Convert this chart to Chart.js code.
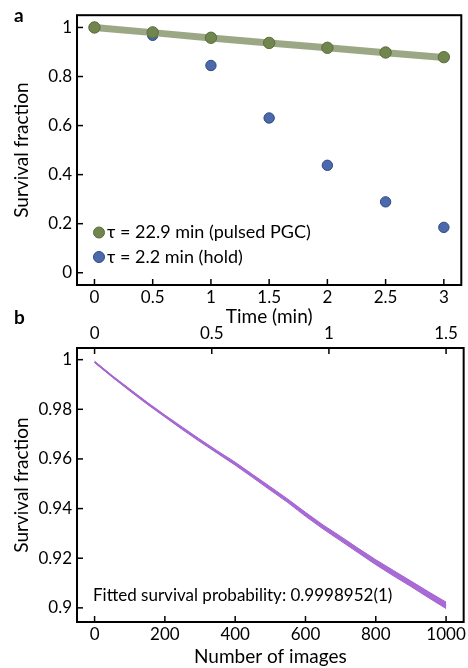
<!DOCTYPE html>
<html>
<head>
<meta charset="utf-8">
<script src="https://cdn.jsdelivr.net/npm/chart.js@4.4.1/dist/chart.umd.min.js"></script>
<style>
  body { margin: 0; background: #fff; }
  #wrap { position: relative; width: 468px; height: 668px; }
  #wrapA { position: absolute; left: 0; top: 0; width: 468px; height: 340px; }
  #wrapB { position: absolute; left: 0; top: 320px; width: 468px; height: 348px; }
</style>
</head>
<body>
<div id="wrap">
  <div id="wrapA"><canvas id="chartA"></canvas></div>
  <div id="wrapB"><canvas id="chartB"></canvas></div>
</div>
<script>
// ---- Panel a data (time in min) ----
const timeA = [0, 0.5, 1, 1.5, 2, 2.5, 3];
const pulsedValues = [1.0, 0.980, 0.958, 0.937, 0.917, 0.898, 0.879];
const holdValues = [1.0, 0.968, 0.845, 0.631, 0.438, 0.289, 0.185];
const fitValues = [1.0, 0.979, 0.957, 0.937, 0.917, 0.897, 0.878];
const legendLabels = ["τ = 22.9 min (pulsed PGC)", "τ = 2.2 min (hold)"];
const timeTicksA = [0, 0.5, 1, 1.5, 2, 2.5, 3];
const timeTickLabelsA = ["0", "0.5", "1", "1.5", "2", "2.5", "3"];
const survTicksA = [0, 0.2, 0.4, 0.6, 0.8, 1];
const survTickLabelsA = ["0", "0.2", "0.4", "0.6", "0.8", "1"];

// ---- Panel b data (number of images) ----
const images = [0, 50, 100, 150, 200, 250, 300, 350, 400, 450, 500,
                550, 600, 650, 700, 750, 800, 850, 900, 950, 1000];
const survivalB = [0.9991, 0.9933, 0.9878, 0.9824, 0.9773, 0.9723, 0.9674,
                   0.9627, 0.9581, 0.9531, 0.9481, 0.9431, 0.9377, 0.9326,
                   0.9279, 0.9231, 0.9184, 0.9140, 0.9097, 0.9053, 0.9010];
const survivalErr = [0.0003, 0.0003, 0.0004, 0.0004, 0.0004, 0.0005, 0.0005,
                     0.0005, 0.0006, 0.0006, 0.0007, 0.0007, 0.0008, 0.0008,
                     0.0009, 0.0009, 0.0010, 0.0011, 0.0011, 0.0012, 0.0013];
const imageTicks = [0, 200, 400, 600, 800, 1000];
const imageTickLabels = ["0", "200", "400", "600", "800", "1000"];
const minuteTicks = [0, 0.5, 1, 1.5];
const minuteTickLabels = ["0", "0.5", "1", "1.5"];
const survTicksB = [0.9, 0.92, 0.94, 0.96, 0.98, 1];
const survTickLabelsB = ["0.9", "0.92", "0.94", "0.96", "0.98", "1"];
const fittedText = "Fitted survival probability: 0.9998952(1)";

const FONT = "Lato, 'Open Sans', sans-serif";
const tickFont = { family: FONT, size: 17 };
const titleFont = { family: FONT, size: 19 };

Chart.defaults.color = "#000";
Chart.defaults.animation = false;

// frame + inward ticks
const framePlugin = {
  id: "frame",
  afterDraw(chart, args, opts) {
    const { ctx, chartArea } = chart;
    const { left, top, right, bottom } = chartArea;
    ctx.save();
    ctx.strokeStyle = "#000";
    ctx.lineWidth = 1.5;
    (opts.tickScales || []).forEach((id) => {
      const sc = chart.scales[id];
      sc.ticks.forEach((t) => {
        const p = sc.getPixelForValue(t.value);
        ctx.beginPath();
        if (sc.position === "bottom") { ctx.moveTo(p, bottom); ctx.lineTo(p, bottom - 6); }
        else if (sc.position === "top") { ctx.moveTo(p, top); ctx.lineTo(p, top + 6); }
        else if (sc.position === "left") { ctx.moveTo(left, p); ctx.lineTo(left + 6, p); }
        ctx.stroke();
      });
    });
    ctx.lineWidth = 2;
    ctx.strokeRect(left, top, right - left, bottom - top);
    ctx.restore();
  },
};

function tickCb(values, labels) {
  return (v) => {
    const i = values.indexOf(v);
    return i >= 0 ? labels[i] : "";
  };
}
function fixTicks(values) {
  return (s) => { s.ticks = values.map((v) => ({ value: v })); };
}

// ---------- Panel a ----------
const legendPlugin = {
  id: "legendA",
  afterDraw(chart) {
    const { ctx } = chart;
    const items = [chart.data.datasets[2], chart.data.datasets[0]];
    ctx.save();
    ctx.font = "18px " + FONT;
    ctx.textBaseline = "alphabetic";
    items.forEach((ds, i) => {
      const cy = 232.5 + i * 24.5;
      ctx.beginPath();
      ctx.arc(99, cy, 5.5, 0, Math.PI * 2);
      ctx.fillStyle = ds.backgroundColor;
      ctx.fill();
      ctx.lineWidth = 1;
      ctx.strokeStyle = ds.borderColor;
      ctx.stroke();
      ctx.fillStyle = "#000";
      ctx.fillText(legendLabels[i], 107, cy + 5.5);
    });
    // panel letters
    ctx.font = "bold 19px " + FONT;
    ctx.fillText("a", 14, 22);
    ctx.fillText("b", 14, 324);
    ctx.restore();
  },
};

new Chart(document.getElementById("chartA"), {
  type: "scatter",
  data: {
    datasets: [
      {
        label: legendLabels[1],
        data: timeA.map((t, i) => ({ x: t, y: holdValues[i] })),
        backgroundColor: "#4b69ab",
        borderColor: "#2c4a84",
        borderWidth: 1,
        pointRadius: 5.2,
        order: 3,
      },
      {
        label: "fit",
        data: timeA.map((t, i) => ({ x: t, y: fitValues[i] })),
        showLine: true,
        borderColor: "rgba(145,158,120,0.9)",
        borderWidth: 7,
        pointRadius: 0,
        order: 2,
      },
      {
        label: legendLabels[0],
        data: timeA.map((t, i) => ({ x: t, y: pulsedValues[i] })),
        backgroundColor: "#71854f",
        borderColor: "#5a6d3c",
        borderWidth: 1,
        pointRadius: 5.7,
        order: 1,
      },
    ],
  },
  options: {
    responsive: true,
    maintainAspectRatio: false,
    layout: { padding: { top: 12, right: 2, left: 0, bottom: 0 } },
    plugins: {
      legend: { display: false },
      tooltip: { enabled: false },
      frame: { tickScales: ["x", "y"] },
    },
    scales: {
      x: {
        type: "linear",
        min: -0.15,
        max: 3.15,
        grid: { display: false, drawTicks: false },
        border: { display: false },
        afterBuildTicks: fixTicks(timeTicksA),
        afterFit: (s) => { s.height = 55; },
        ticks: { font: tickFont, padding: 2, maxRotation: 0, autoSkip: false,
                 callback: tickCb(timeTicksA, timeTickLabelsA) },
        title: { display: true, text: "Time (min)", font: titleFont,
                 padding: { top: 0, bottom: 12 } },
      },
      y: {
        type: "linear",
        min: -0.05,
        max: 1.05,
        grid: { display: false, drawTicks: false },
        border: { display: false },
        afterBuildTicks: fixTicks(survTicksA),
        afterFit: (s) => { s.width = 77; },
        ticks: { font: tickFont, padding: 5, autoSkip: false,
                 callback: tickCb(survTicksA, survTickLabelsA) },
        title: { display: true, text: "Survival fraction", font: titleFont,
                 padding: { top: 10, bottom: 0 } },
      },
    },
  },
  plugins: [framePlugin, legendPlugin],
});

// ---------- Panel b ----------
const textPlugin = {
  id: "fitText",
  afterDraw(chart) {
    const { ctx } = chart;
    ctx.save();
    ctx.font = "17px " + FONT;
    ctx.fillStyle = "#000";
    ctx.textBaseline = "alphabetic";
    ctx.fillText(fittedText, 93, 281);
    ctx.restore();
  },
};

const lower = survivalB.map((v, i) => ({ x: images[i], y: v - survivalErr[i] }));
const upper = survivalB.map((v, i) => ({ x: images[i], y: v + survivalErr[i] }));

new Chart(document.getElementById("chartB"), {
  type: "scatter",
  data: {
    datasets: [
      {
        label: "lower",
        data: lower,
        showLine: true,
        borderColor: "#a463d3",
        borderWidth: 1,
        pointRadius: 0,
        fill: false,
      },
      {
        label: "upper",
        data: upper,
        showLine: true,
        borderColor: "#a463d3",
        borderWidth: 1,
        pointRadius: 0,
        backgroundColor: "#a86bd5",
        fill: "-1",
      },
      {
        label: "survival",
        data: survivalB.map((v, i) => ({ x: images[i], y: v })),
        showLine: true,
        borderColor: "#7a34b0",
        borderWidth: 1.3,
        pointRadius: 0,
      },
    ],
  },
  options: {
    responsive: true,
    maintainAspectRatio: false,
    layout: { padding: { top: 0, right: 2, left: 0, bottom: 0 } },
    plugins: {
      legend: { display: false },
      tooltip: { enabled: false },
      filler: { propagate: false },
      frame: { tickScales: ["x", "x2", "y"] },
    },
    scales: {
      x: {
        type: "linear",
        position: "bottom",
        min: -50,
        max: 1050,
        grid: { display: false, drawTicks: false },
        border: { display: false },
        afterBuildTicks: fixTicks(imageTicks),
        afterFit: (s) => { s.height = 46; },
        ticks: { font: tickFont, padding: 2, maxRotation: 0, autoSkip: false,
                 callback: tickCb(imageTicks, imageTickLabels) },
        title: { display: true, text: "Number of images", font: titleFont,
                 padding: { top: 0, bottom: 0 } },
      },
      x2: {
        type: "linear",
        position: "top",
        display: true,
        min: -0.075,
        max: 1.575,
        grid: { display: false, drawTicks: false },
        border: { display: false },
        afterBuildTicks: fixTicks(minuteTicks),
        afterFit: (s) => { s.height = 28; },
        ticks: { font: tickFont, padding: 4, maxRotation: 0, autoSkip: false,
                 callback: tickCb(minuteTicks, minuteTickLabels) },
      },
      y: {
        type: "linear",
        min: 0.8943,
        max: 1.0047,
        grid: { display: false, drawTicks: false },
        border: { display: false },
        afterBuildTicks: fixTicks(survTicksB),
        afterFit: (s) => { s.width = 77; },
        ticks: { font: tickFont, padding: 5, autoSkip: false,
                 callback: tickCb(survTicksB, survTickLabelsB) },
        title: { display: true, text: "Survival fraction", font: titleFont,
                 padding: { top: 10, bottom: 0 } },
      },
    },
  },
  plugins: [framePlugin, textPlugin],
});
</script>
</body>
</html>
